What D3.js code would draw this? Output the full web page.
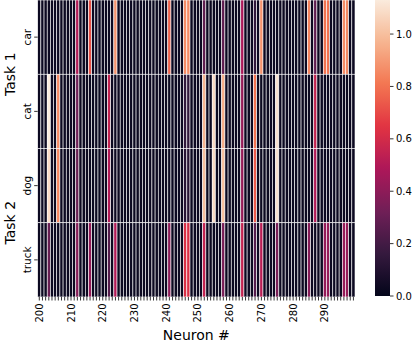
<!DOCTYPE html>
<html><head><meta charset="utf-8">
<script src="https://cdn.jsdelivr.net/npm/d3@7"></script>
<style>body{margin:0;background:#fff}svg{display:block;font-family:"DejaVu Sans",sans-serif}</style>
</head><body><svg id="c" width="415" height="344"></svg>
<script>
const rows = ["car", "cat", "dog", "truck"];
const neurons = d3.range(200, 300);
const tickLabels = ["200","210","220","230","240","250","260","270","280","290"];
const cbTicks = ["0.0","0.2","0.4","0.6","0.8","1.0"];
const tasks = ["Task 1", "Task 2"];

const car = [
 .03,.03,.03,.03,.03,.03,.03,.03,.03,.03,
 .03,.03,.50,.03,.03,.03,.72,.03,.03,.03,
 .03,.03,.03,.03,.88,.03,.03,.03,.03,.03,
 .03,.03,.03,.03,.03,.03,.03,.03,.03,.03,
 .03,.76,.03,.03,.03,.03,.86,.86,.03,.03,
 .03,.03,.28,.03,.03,.03,.03,.03,.28,.03,
 .03,.03,.03,.03,.48,.03,.03,.03,.15,.03,
 .88,.03,.03,.03,.03,.03,.03,.03,.03,.03,
 .03,.03,.03,.03,.03,.84,.03,.28,.03,.03,
 .80,.80,.03,.03,.03,.03,.86,.86,.03,.03];
const cat = [
 .03,.03,.03,1.13,.03,.03,.86,.03,.03,.03,
 .03,.03,.32,.03,.03,.03,.03,.03,.03,.03,
 .03,.03,.55,.03,.03,.03,.03,.03,.03,.03,
 .03,.03,.03,.03,.03,.03,.03,.03,.03,.03,
 .03,.03,.03,.03,.03,.03,.15,.15,.03,.03,
 .03,.03,.97,.03,.03,1.08,.03,.03,.95,.03,
 .03,.03,.03,.03,.42,.03,.03,.03,.80,.03,
 .03,.03,.03,.03,.03,1.10,.03,.03,.03,.03,
 .03,.03,.03,.03,.03,.03,.03,.55,.03,.03,
 .03,.03,.03,.03,.03,.03,.03,.03,.03,.03];
const dog = [
 .03,.03,.03,1.08,.03,.03,.85,.03,.03,.03,
 .03,.03,.30,.03,.03,.03,.03,.03,.03,.03,
 .03,.03,.50,.03,.03,.03,.03,.03,.03,.03,
 .03,.03,.03,.03,.03,.03,.03,.03,.03,.03,
 .03,.03,.03,.03,.03,.03,.12,.12,.03,.03,
 .03,.03,1.00,.03,.03,1.08,.03,.03,1.00,.03,
 .03,.03,.03,.03,.42,.03,.03,.03,.74,.03,
 .03,.03,.03,.03,.03,1.10,.03,.03,.03,.03,
 .03,.03,.03,.03,.03,.03,.03,.50,.03,.03,
 .03,.03,.03,.03,.03,.03,.03,.03,.03,.03];
const truck = [
 .03,.03,.03,.30,.03,.03,.03,.03,.03,.03,
 .03,.03,.38,.03,.03,.03,.42,.03,.03,.03,
 .03,.03,.25,.03,.50,.03,.03,.03,.03,.03,
 .03,.03,.03,.03,.03,.03,.03,.03,.03,.03,
 .03,.40,.03,.03,.03,.03,.62,.62,.03,.03,
 .03,.03,.55,.03,.03,.03,.03,.03,.35,.03,
 .03,.03,.03,.03,.55,.03,.03,.03,.25,.03,
 .52,.03,.03,.03,.03,.35,.03,.03,.03,.03,
 .03,.03,.03,.03,.03,.38,.03,.03,.03,.03,
 .42,.42,.03,.03,.03,.03,.42,.42,.03,.03];
const series = [car, cat, dog, truck];

// rocket colormap approximation
const rocketStops = [0, 1/7, 2/7, 3/7, 4/7, 5/7, 6/7, 1];
const rocketColors = ["#03051a","#35193e","#701f57","#ad1759","#e13342","#f37651","#f6b48f","#faebdd"];
const vmax = d3.max(series.flat());
const cmapT = d3.scaleLinear().domain(rocketStops).range(rocketColors).interpolate(d3.interpolateRgb);
const color = v => cmapT(Math.max(0, Math.min(1, v / vmax)));

const svg = d3.select("#c");
const L = 37.7, R = 355, T = 0, B = 297;
const x = d3.scaleBand().domain(neurons).range([L, R]);
const y = d3.scaleBand().domain(rows).range([T, B]);

const cells = [];
rows.forEach((r, i) => neurons.forEach((n, j) => cells.push({r, n, v: series[i][j]})));
svg.append("g").selectAll("rect").data(cells).join("rect")
  .attr("x", d => x(d.n)).attr("y", d => y(d.r))
  .attr("width", x.bandwidth()).attr("height", y.bandwidth())
  .attr("fill", d => color(d.v))
  .attr("stroke", "white").attr("stroke-width", 0.6);

// x ticks
const gx = svg.append("g");
gx.selectAll("line").data(neurons).join("line")
  .attr("x1", d => x(d) + x.bandwidth()/2).attr("x2", d => x(d) + x.bandwidth()/2)
  .attr("y1", B).attr("y2", B + 3.5).attr("stroke", "#000").attr("stroke-width", 0.8);
gx.selectAll("text").data(tickLabels).join("text")
  .attr("transform", d => `translate(${x(+d) + x.bandwidth()/2},${B + 6.5}) rotate(-90)`)
  .attr("text-anchor", "end").attr("dy", "0.35em")
  .attr("font-size", 10).attr("fill", "#000").text(d => d);
svg.append("text").attr("x", (L + R)/2).attr("y", 340).attr("text-anchor", "middle")
  .attr("font-size", 14).text("Neuron #");

// y ticks
const gy = svg.append("g");
gy.selectAll("line").data(rows).join("line")
  .attr("x1", L - 3.5).attr("x2", L)
  .attr("y1", d => y(d) + y.bandwidth()/2).attr("y2", d => y(d) + y.bandwidth()/2)
  .attr("stroke", "#000").attr("stroke-width", 0.8);
gy.selectAll("text").data(rows).join("text")
  .attr("transform", d => `translate(${L - 7},${y(d) + y.bandwidth()/2}) rotate(-90)`)
  .attr("text-anchor", "middle").attr("font-size", 10.5).text(d => d);
// task labels
const taskCenters = [(y("car") + y("cat") + y.bandwidth()) / 2, (y("dog") + y("truck") + y.bandwidth()) / 2];
svg.selectAll("text.task").data(tasks).join("text").attr("class", "task")
  .attr("transform", (d, i) => `translate(15,${taskCenters[i]}) rotate(-90)`)
  .attr("text-anchor", "middle").attr("font-size", 14).text(d => d);

// colorbar
const cbX = 375, cbW = 15;
const cy = d3.scaleLinear().domain([0, vmax]).range([296, 0]);
const grad = svg.append("defs").append("linearGradient").attr("id", "cb")
  .attr("x1", 0).attr("y1", 1).attr("x2", 0).attr("y2", 0);
d3.range(0, 1.0001, 0.02).forEach(t => grad.append("stop").attr("offset", t).attr("stop-color", cmapT(t)));
svg.append("rect").attr("x", cbX).attr("y", cy(vmax)).attr("width", cbW).attr("height", cy(0) - cy(vmax))
  .attr("fill", "url(#cb)");
const gc = svg.append("g").attr("transform", `translate(${cbX + cbW},0)`);
gc.selectAll("line").data(cbTicks).join("line")
  .attr("x1", 0).attr("x2", 3.5).attr("y1", d => cy(+d)).attr("y2", d => cy(+d))
  .attr("stroke", "#000").attr("stroke-width", 0.8);
gc.selectAll("text").data(cbTicks).join("text")
  .attr("x", 6).attr("y", d => cy(+d)).attr("dy", "0.35em")
  .attr("font-size", 10).text(d => d);
</script></body></html>
